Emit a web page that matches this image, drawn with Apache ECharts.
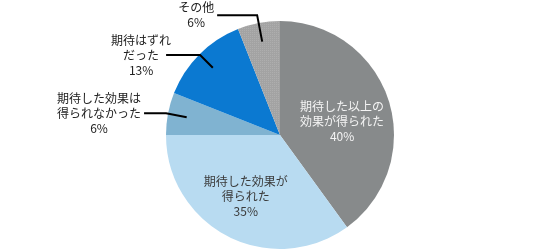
<!DOCTYPE html>
<html>
<head>
<meta charset="utf-8">
<script src="https://cdn.jsdelivr.net/npm/echarts@6/dist/echarts.min.js"></script>
<style>html,body{margin:0;padding:0;background:#fff;}#c{width:560px;height:252px;}</style>
</head>
<body>
<div id="c"></div>
<script>
// Data
const categories = ['期待した以上の\n効果が得られた', '期待した効果が\n得られた', '期待した効果は\n得られなかった', '期待はずれ\nだった', 'その他'];
const values = [40, 35, 6, 13, 6];

// Styles
const colors = ['#878a8b', '#b8dbf1', '#80b3d1', '#0b79d1', '#a3a3a3'];
const insideLabel = [true, true, false, false, false];
const insideColor = ['#f4f4f4', '#3a3a3a'];
const insideOffset = [[5, 5], [-7, 8]];
const lineLen = [0, 0, 21, 18, 27];
const lineLen2 = [0, 0, 22, 34, 40];
const labelShift = [0, 0, 0, 8, 0];

const font = '"Noto Sans CJK JP", "Noto Sans CJK SC", sans-serif';

const chart = echarts.init(document.getElementById('c'), null, {renderer: 'canvas'});

const mainData = categories.map((name, i) => {
  const d = {name: name, value: values[i], itemStyle: {color: colors[i]}};
  if (i === 4) {
    d.itemStyle.decal = {symbol: 'rect', symbolSize: 1, dashArrayX: [1, 1], dashArrayY: [1, 1], color: 'rgba(255,255,255,0.12)'};
  }
  if (insideLabel[i]) {
    d.label = {show: true, position: 'inside', color: insideColor[i], offset: insideOffset[i]};
  } else {
    d.label = {show: false};
  }
  return d;
});

const guideData = categories.map((name, i) => {
  const d = {name: name, value: values[i]};
  if (insideLabel[i]) {
    d.label = {show: false};
    d.labelLine = {show: false};
  } else {
    d.label = {show: true, position: 'outside'};
    d.labelLine = {show: true, length: lineLen[i], length2: lineLen2[i]};
  }
  return d;
});

chart.setOption({
  animation: false,
  backgroundColor: '#ffffff',
  series: [
    {
      type: 'pie',
      center: [280, 135],
      radius: 114,
      startAngle: 90,
      clockwise: true,
      silent: true,
      avoidLabelOverlap: false,
      itemStyle: {borderWidth: 0},
      label: {
        formatter: '{b}\n{c}%',
        fontFamily: font,
        fontSize: 12,
        lineHeight: 15,
        align: 'center'
      },
      data: mainData,
      z: 1
    },
    {
      type: 'pie',
      center: [280, 135],
      radius: 95,
      startAngle: 90,
      clockwise: true,
      silent: true,
      avoidLabelOverlap: false,
      itemStyle: {color: 'rgba(0,0,0,0)', borderWidth: 0},
      label: {
        formatter: '{b}\n{c}%',
        fontFamily: font,
        fontSize: 12,
        lineHeight: 15,
        color: '#222222'
      },
      labelLine: {
        lineStyle: {color: '#000000', width: 2}
      },
      labelLayout: function (p) {
        const pts = p.labelLinePoints;
        if (!pts || !pts.length) return {};
        const end = pts[pts.length - 1];
        return {
          x: end[0] - 3 - p.labelRect.width / 2 + labelShift[p.dataIndex],
          y: end[1],
          align: 'center',
          verticalAlign: 'middle',
          labelLinePoints: pts
        };
      },
      data: guideData,
      z: 2
    }
  ]
});
</script>
</body>
</html>
